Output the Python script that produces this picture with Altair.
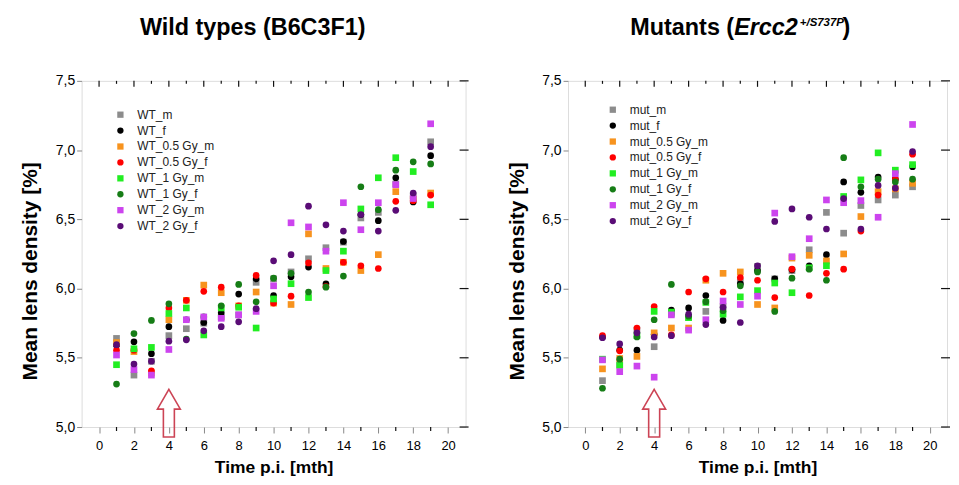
import altair as alt
import pandas as pd

months = list(range(1, 20))

# ---- Wild types (B6C3F1) ----
wt_names = ["WT_m", "WT_f", "WT_0.5 Gy_m", "WT_0.5 Gy_f", "WT_1 Gy_m", "WT_1 Gy_f", "WT_2 Gy_m", "WT_2 Gy_f"]
WT_m    = [5.64, 5.375, 5.475, 5.66, 5.71, 5.75, 5.795, 5.81, 6.045, 6.07, 6.12, 6.215, 6.295, 6.335, 6.51, 6.55, 6.755, 6.67, 7.06]
WT_f    = [5.59, 5.615, 5.53, 5.725, 5.775, 5.755, 5.825, 5.96, 6.07, 5.95, 6.085, 6.155, 6.035, 6.34, 6.535, 6.49, 6.80, 6.625, 6.96]
WT_05_m = [5.61, 5.545, 5.39, 5.775, 5.915, 6.025, 5.97, 5.875, 5.975, 5.895, 5.885, 6.395, 6.145, 6.19, 6.13, 6.245, 6.70, 6.645, 6.69]
WT_05_f = [5.555, 5.555, 5.405, 5.86, 5.915, 5.98, 6.01, 5.875, 6.095, 5.895, 5.945, 6.185, 6.015, 6.19, 6.165, 6.145, 6.63, 6.635, 6.675]
WT_1_m  = [5.45, 5.565, 5.575, 5.82, 5.86, 5.665, 5.86, 5.865, 5.715, 5.925, 6.035, 5.935, 6.13, 6.27, 6.575, 6.80, 6.945, 6.845, 6.605]
WT_1_f  = [5.31, 5.675, 5.77, 5.89, 5.635, 5.795, 5.875, 6.03, 5.905, 6.075, 6.11, 5.975, 6.01, 6.09, 6.735, 6.57, 6.855, 6.915, 6.90]
WT_2_m  = [5.52, 5.415, 5.375, 5.56, 5.775, 5.795, 5.785, 5.81, 5.835, 6.02, 6.475, 6.445, 6.27, 6.62, 6.425, 6.62, 6.75, 6.65, 7.19]
WT_2_f  = [5.595, 5.455, 5.475, 5.62, 5.63, 5.695, 5.725, 5.76, 5.855, 6.20, 6.245, 6.595, 6.46, 6.415, 6.535, 6.415, 6.565, 6.69, 7.025]
wt_series = [WT_m, WT_f, WT_05_m, WT_05_f, WT_1_m, WT_1_f, WT_2_m, WT_2_f]

# ---- Mutants (Ercc2 +/S737P) ----
mut_names = ["mut_m", "mut_f", "mut_0.5 Gy_m", "mut_0.5 Gy_f", "mut_1 Gy_m", "mut_1 Gy_f", "mut_2 Gy_m", "mut_2 Gy_f"]
mut_m    = [5.335, 5.45, 5.70, 5.58, 5.82, 5.79, 5.835, 5.87, 6.05, 6.16, 6.07, 6.13, 6.28, 6.55, 6.40, 6.60, 6.64, 6.675, 6.735]
mut_f    = [5.65, 5.555, 5.555, 5.67, 5.845, 5.86, 5.95, 5.77, 6.035, 6.13, 6.07, 6.135, 6.165, 6.245, 6.77, 6.695, 6.805, 6.79, 6.88]
mut_05_m = [5.42, 5.495, 5.51, 5.68, 5.715, 5.715, 6.06, 6.11, 6.12, 5.885, 5.86, 6.22, 6.24, 6.20, 6.25, 6.52, 6.70, 6.72, 6.76]
mut_05_f = [5.66, 5.55, 5.715, 5.87, 5.665, 5.975, 6.07, 5.975, 6.08, 6.06, 5.935, 6.14, 5.95, 6.11, 6.14, 6.415, 6.675, 6.79, 6.97]
mut_1_m  = [5.49, 5.445, 5.66, 5.835, 5.83, 5.79, 5.90, 5.815, 5.94, 5.985, 6.04, 5.97, 6.15, 6.165, 6.665, 6.785, 6.98, 6.855, 6.895]
mut_1_f  = [5.28, 5.49, 5.65, 5.775, 6.03, 5.80, 5.905, 5.84, 6.02, 6.12, 5.835, 6.075, 6.14, 6.06, 6.945, 6.735, 6.79, 6.77, 6.79]
mut_2_m  = [5.485, 5.40, 5.44, 5.36, 5.81, 5.70, 5.775, 5.91, 5.885, 5.945, 6.545, 6.23, 6.36, 6.64, 6.62, 6.635, 6.515, 6.83, 7.185]
mut_2_f  = [5.645, 5.60, 5.68, 5.65, 5.66, 5.815, 5.74, 5.865, 5.755, 6.165, 6.485, 6.575, 6.515, 6.43, 6.65, 6.43, 6.745, 6.725, 6.99]
mut_series = [mut_m, mut_f, mut_05_m, mut_05_f, mut_1_m, mut_1_f, mut_2_m, mut_2_f]

colors = ["#8c8c8c", "#000000", "#f7931e", "#ff0000", "#22ee22", "#167d16", "#cc44ee", "#5a0c76"]
shapes = ["square", "circle"] * 4

x_range = [-1, 21]
y_range = [5.0, 7.5]
x_major = list(range(0, 21, 2))
x_minor = list(range(1, 20, 2))
y_ticks = [5.0, 5.5, 6.0, 6.5, 7.0, 7.5]

arrow_t = [4]
arrow_v = [5.10]
ARROW = "M0,-1 L0.48,-0.17 L0.23,-0.17 L0.23,1 L-0.23,1 L-0.23,-0.17 L-0.48,-0.17 Z"

wt_title = "Wild types (B6C3F1)"
mut_title_parts = ["Mutants (", "Ercc2", "+/S737P", ")"]

FONT = "Liberation Sans"
INK = "#111111"
H = 348


def long_df(names, series):
    rows = []
    for n, vals in zip(names, series):
        for t, v in zip(months, vals):
            rows.append({"t": t, "v": v, "series": n})
    return pd.DataFrame(rows)


def panel(names, series, width, title_layers, leg_x, leg_y):
    df = long_df(names, series)
    xs = alt.Scale(domain=x_range, nice=False, zero=False)
    ys = alt.Scale(domain=y_range, nice=False, zero=False)
    leg = alt.Legend(orient="none", legendX=leg_x, legendY=leg_y, title=None,
                     labelFont=FONT, labelFontSize=12, labelColor="#222222",
                     symbolSize=40, rowPadding=4, labelOffset=11, padding=0,
                     symbolStrokeWidth=0)
    pts = alt.Chart(df).mark_point(filled=True, size=45, opacity=1).encode(
        x=alt.X("t:Q", scale=xs, axis=alt.Axis(
            orient="bottom", values=x_major, tickSize=6, labelPadding=7,
            title="Time p.i. [mth]", titleFontSize=17.5, titlePadding=6,
            labelFontSize=13, domain=False, grid=False, labelFlush=False)),
        y=alt.Y("v:Q", scale=ys, axis=alt.Axis(
            orient="left", values=y_ticks, tickSize=5, labelPadding=2,
            labelExpr="replace(format(datum.value, '.1f'), '.', ',')",
            title="Mean lens density [%]", titleFontSize=21,
            titleX=-41, titleY=H / 2 + 17,
            labelFontSize=14, domain=False, grid=False, labelFlush=False)),
        color=alt.Color("series:N", scale=alt.Scale(domain=names, range=colors), legend=leg),
        shape=alt.Shape("series:N", scale=alt.Scale(domain=names, range=shapes), legend=leg),
    )
    # frame ticks (bottom minor, top major/minor inward, right crossing)
    bottom_minor = alt.Chart(pd.DataFrame({"t": x_minor, "v": [y_range[0]] * len(x_minor)})).mark_tick(
        orient="vertical", size=4, thickness=1.2, yOffset=2, color=INK, opacity=1
    ).encode(x=alt.X("t:Q", scale=xs, axis=None), y=alt.Y("v:Q", scale=ys, axis=None))
    top_major = alt.Chart(pd.DataFrame({"t": x_major, "v": [y_range[1]] * len(x_major)})).mark_tick(
        orient="vertical", size=6, thickness=1.2, yOffset=3, color=INK, opacity=1
    ).encode(x=alt.X("t:Q", scale=xs, axis=None), y=alt.Y("v:Q", scale=ys, axis=None))
    top_minor = alt.Chart(pd.DataFrame({"t": x_minor, "v": [y_range[1]] * len(x_minor)})).mark_tick(
        orient="vertical", size=3, thickness=1.2, yOffset=1.5, color=INK, opacity=1
    ).encode(x=alt.X("t:Q", scale=xs, axis=None), y=alt.Y("v:Q", scale=ys, axis=None))
    right_major = alt.Chart(pd.DataFrame({"t": [x_range[1]] * len(y_ticks), "v": y_ticks})).mark_tick(
        orient="horizontal", size=9, thickness=1.2, xOffset=-1.5, color=INK, opacity=1
    ).encode(x=alt.X("t:Q", scale=xs, axis=None), y=alt.Y("v:Q", scale=ys, axis=None))
    arrow = alt.Chart(pd.DataFrame({"t": arrow_t, "v": arrow_v})).mark_point(
        shape=ARROW, size=2304, filled=False, stroke="#cc4455", strokeWidth=1.6, opacity=1
    ).encode(
        x=alt.X("t:Q", scale=xs, axis=None),
        y=alt.Y("v:Q", scale=ys, axis=None),
    )
    layers = [pts, bottom_minor, top_major, top_minor, right_major, arrow] + title_layers
    return alt.layer(*layers).resolve_axis(x="independent", y="independent").properties(
        width=width, height=H)


def title_text(txt, x, y, align="center", size=23.5, italic=False):
    return alt.Chart(pd.DataFrame({"txt": [txt]})).mark_text(
        align=align, baseline="alphabetic", font=FONT, fontSize=size, fontWeight="bold",
        fontStyle="italic" if italic else "normal", color="#000000"
    ).encode(x=alt.value(x), y=alt.value(y), text="txt:N")


left_titles = [title_text(wt_title, 172, -46)]
X0 = 167
right_titles = [
    title_text(mut_title_parts[0], X0, -46, align="right"),
    title_text(mut_title_parts[1], X0, -46, align="left", italic=True),
    title_text(mut_title_parts[2], X0 + 66, -55, align="left", size=11.5, italic=True),
    title_text(mut_title_parts[3], X0 + 66 + 43, -46, align="left"),
]

left = panel(wt_names, wt_series, 386, left_titles, 33, 28)
right = panel(mut_names, mut_series, 381, right_titles, 39, 23)

chart = alt.hconcat(left, right, spacing=36).resolve_scale(
    color="independent", shape="independent"
).properties(
    padding={"left": 11, "top": 6, "right": 0, "bottom": 0}
).configure_view(
    stroke="#111111", strokeWidth=1.4
).configure_axis(
    labelFont=FONT, titleFont=FONT, titleFontWeight="bold", labelColor=INK, titleColor="#000000",
    tickColor=INK, tickWidth=1.2
).configure(background="white")

chart.save("out.html", embed_options={"renderer": "svg", "actions": False})
